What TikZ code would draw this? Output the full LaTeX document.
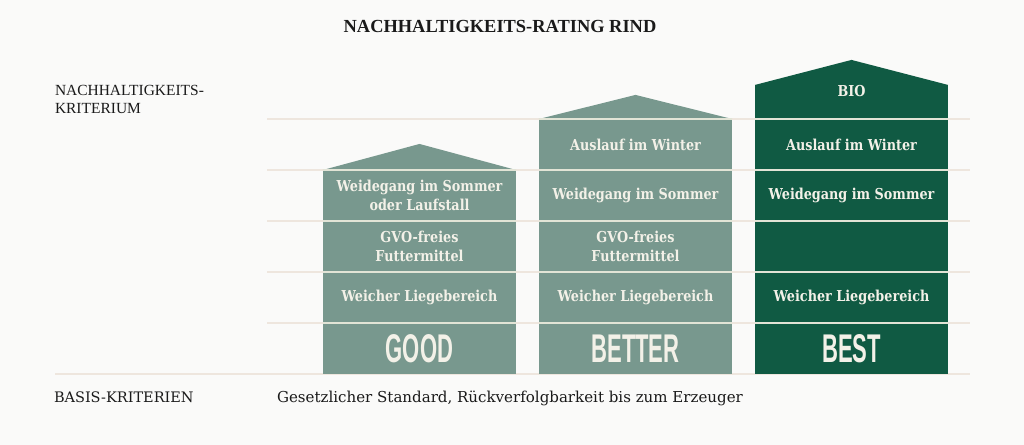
\documentclass[tikz,border=0pt]{standalone}
\usepackage{fontspec}
\setmainfont{Liberation Serif}
\newfontfamily\slab{DejaVu Serif}
\newfontfamily\slabnarrow{DejaVu Serif}[FakeStretch=0.85]
\newfontfamily\cond{Liberation Sans}[FakeStretch=0.55]
\newcommand{\tierfont}{\cond\fontsize{28.5}{30}\selectfont}
\usetikzlibrary{positioning}
\definecolor{good}{HTML}{78988E}
\definecolor{best}{HTML}{105A43}
\definecolor{paper}{HTML}{FAFAF9}
\definecolor{rule}{HTML}{EEE6DE}
\definecolor{cream}{HTML}{F3F1E8}
\definecolor{seam}{HTML}{E2E4D6}
\definecolor{ink}{HTML}{1A1A1A}

\begin{document}
\begin{tikzpicture}[x=0.025cm,y=-0.025cm,% one unit is one pixel, y runs downwards
					every node/.style={
						align=center,		% so that "\\" breaks the line
						inner sep=0pt,
						outer sep=0pt
						},
					cell/.style={rectangle,minimum width=4.825cm,minimum height=1.275cm,text=cream,
						font=\slabnarrow\bfseries\fontsize{10.7}{13.5}\selectfont},
					grid/.style={draw=rule,line width=0.8pt},
					seam/.style={draw=seam,line width=1.3pt}
					]
\fill[paper] (0,0) rectangle (1024,445);
\useasboundingbox (0,0) rectangle (1024,445);

% rows in the background
\foreach \y in {119,170,221,272,323}
	\draw[grid] (267,\y) -- (970,\y);
\draw[grid] (55,374) -- (970,374);

% GOOD
\node[cell,fill=good](G5) at (419.5,348.5) {\tierfont GOOD};
\node[cell,fill=good](G4)[above=0pt of G5]{Weicher Liegebereich};
\node[cell,fill=good](G3)[above=0pt of G4]{GVO-freies\\ Futtermittel};
\node[cell,fill=good](G2)[above=0pt of G3]{Weidegang im Sommer\\ oder Laufstall};
\fill[good] (G2.north west) -- ([yshift=0.65cm]G2.north) -- (G2.north east) -- cycle;

% BETTER
\node[cell,fill=good](M5) at (635.5,348.5) {\tierfont BETTER};
\node[cell,fill=good](M4)[above=0pt of M5]{Weicher Liegebereich};
\node[cell,fill=good](M3)[above=0pt of M4]{GVO-freies\\ Futtermittel};
\node[cell,fill=good](M2)[above=0pt of M3]{Weidegang im Sommer};
\node[cell,fill=good](M1)[above=0pt of M2]{Auslauf im Winter};
\fill[good] (M1.north west) -- ([yshift=0.6cm]M1.north) -- (M1.north east) -- cycle;

% BEST
\node[cell,fill=best](S5) at (851.5,348.5) {\tierfont BEST};
\node[cell,fill=best](S4)[above=0pt of S5]{Weicher Liegebereich};
\node[cell,fill=best](S3)[above=0pt of S4]{};
\node[cell,fill=best](S2)[above=0pt of S3]{Weidegang im Sommer};
\node[cell,fill=best](S1)[above=0pt of S2]{Auslauf im Winter};
\node[cell,fill=best,minimum height=0.85cm](S0)[above=0pt of S1]{};
\fill[best] (S0.north west) -- ([yshift=0.625cm]S0.north) -- (S0.north east) -- cycle;
\node[cell,minimum height=0pt](S0t) at ([yshift=0.275cm]S0.center) {BIO};

% light seams between the criteria
\foreach \n in {G2,G3,G4,G5,M1,M2,M3,M4,M5,S1,S2,S3,S4,S5}
	\draw[seam] (\n.north west) -- (\n.north east);

% texts
\node[font=\bfseries\fontsize{13.1}{15}\selectfont,text=ink,anchor=base](T0) at (500,33) {NACHHALTIGKEITS-RATING RIND};
\node[font=\fontsize{11}{12.8}\selectfont,text=ink,align=left,anchor=north west](T1) at (55,85) {NACHHALTIGKEITS-\\ KRITERIUM};
\node[font=\slab\fontsize{10.3}{12}\selectfont,text=ink,anchor=base west](T2) at (54,402) {BASIS-KRITERIEN};
\node[font=\slab\fontsize{10.7}{12}\selectfont,text=ink,anchor=base west](T3) at (277,402) {Gesetzlicher Standard, Rückverfolgbarkeit bis zum Erzeuger};
\end{tikzpicture}
\end{document}
